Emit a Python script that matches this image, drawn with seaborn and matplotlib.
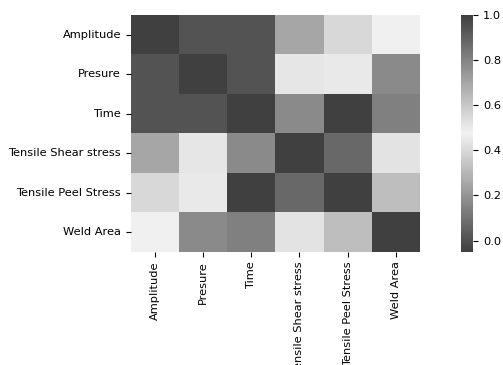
import numpy as np
import pandas as pd
import seaborn as sns
import matplotlib
matplotlib.use("Agg")
import matplotlib.pyplot as plt

labels = ["Amplitude", "Presure", "Time", "Tensile Shear stress", "Tensile Peel Stress", "Weld Area"]
amplitude = [1.00, 0.01, 0.01, 0.70, 0.40, 0.48]
presure = [0.01, 1.00, 0.01, 0.44, 0.45, 0.78]
time_ = [0.01, 0.01, 1.00, 0.78, -0.05, 0.81]
tss = [0.70, 0.44, 0.78, 1.00, 0.07, 0.52]
tps = [0.40, 0.45, -0.05, 0.07, 1.00, 0.32]
weld = [0.48, 0.78, 0.81, 0.52, 0.32, 1.00]

corr = pd.DataFrame([amplitude, presure, time_, tss, tps, weld], index=labels, columns=labels)

fig = plt.figure(figsize=(5.03, 3.65), dpi=100)
ax = fig.add_axes([0.26, 0.31, 0.575, 0.649])
cax = fig.add_axes([0.917, 0.31, 0.024, 0.649])
cmap = sns.diverging_palette(0, 0, s=0, l=27, as_cmap=True)
sns.heatmap(corr, cmap=cmap, ax=ax, cbar_ax=cax)
ax.tick_params(labelsize=8.2)
cax.tick_params(labelsize=8.2)
fig.savefig("out.png", dpi=100)
